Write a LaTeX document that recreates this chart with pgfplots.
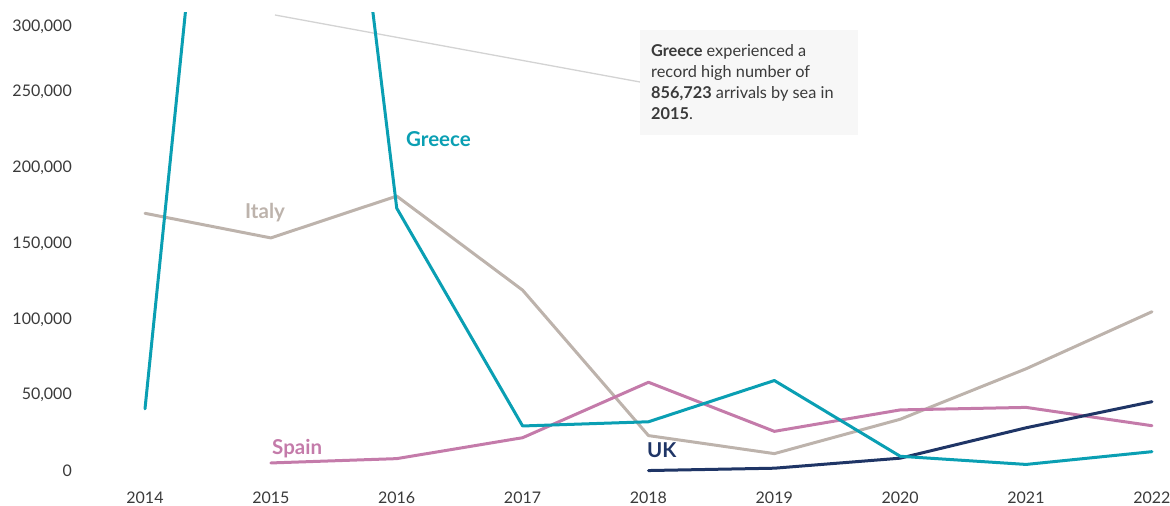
\documentclass[border=0pt]{standalone}
\usepackage{fontspec}
\setmainfont{Lato}
\usepackage{pgfplots}
\pgfplotsset{compat=1.18}
\definecolor{greece}{HTML}{0A9FB3}
\definecolor{italy}{HTML}{BDB3AC}
\definecolor{spain}{HTML}{C47BAA}
\definecolor{uk}{HTML}{1F3566}
\definecolor{annbg}{HTML}{F7F7F7}
\definecolor{conn}{HTML}{D3D3D3}
\definecolor{ticktxt}{HTML}{3A3A3A}
\begin{document}
\begin{tikzpicture}
\begin{axis}[
  at={(73pt,26pt)}, anchor=south west,
  scale only axis, width=1097pt, height=467pt,
  xmin=2013.4280, xmax=2022.1430, ymin=-5941, ymax=302310,
  axis line style={draw=none}, major tick length=0pt,
  xtick={2014,...,2022}, ytick={0,50000,...,250000},
  extra y ticks={300000},
  extra y tick style={yticklabel style={yshift=-10pt}},
  scaled y ticks=false,
  /pgf/number format/.cd, fixed, 1000 sep={,}, assume math mode=true,
  /pgfplots/.cd,
  xticklabel style={/pgf/number format/1000 sep={}, yshift=-12pt},
  yticklabel style={xshift=-1pt},
  ticklabel style={font=\fontsize{16}{19}\selectfont, text=ticktxt, inner sep=0pt},
  clip mode=individual,
]
\draw[conn, line width=1.3pt] (axis cs:2015.0328,300990) -- (axis cs:2017.9325,256766);
\addplot[italy, line width=3pt, line join=round, line cap=round] coordinates {
 (2014,170100) (2015,153842) (2016,181436) (2017,119369) (2018,23370)
 (2019,11471) (2020,34154) (2021,67477) (2022,105131)};
\addplot[spain, line width=3pt, line join=round, line cap=round] coordinates {
 (2015,5312) (2016,8162) (2017,21971) (2018,58569) (2019,26168)
 (2020,40326) (2021,41979) (2022,29895)};
\addplot[uk, line width=3pt, line join=round, line cap=round] coordinates {
 (2018,299) (2019,1843) (2020,8466) (2021,28526) (2022,45755)};
\addplot[greece, line width=3pt, line join=round, line cap=round] coordinates {
 (2014,41038) (2015,856723) (2016,173450) (2017,29718) (2018,32494)
 (2019,59726) (2020,9714) (2021,4331) (2022,12758)};
\fill[annbg] (axis cs:2017.9325,291089) rectangle (axis cs:2019.6644,221782);
\begin{scope}[every node/.style={anchor=base west, inner sep=0pt, font=\fontsize{16.3}{19}\selectfont, text=ticktxt}]
\node at (axis cs:2018.0199,273267) {\textbf{Greece} experienced a};
\node at (axis cs:2018.0199,259406) {record high number of};
\node at (axis cs:2018.0199,245545) {\textbf{856,723} arrivals by sea in};
\node at (axis cs:2018.0199,231683) {\textbf{2015}.};
\end{scope}
\begin{scope}[every node/.style={anchor=base west, inner sep=0pt, font=\fontsize{20.5}{23}\selectfont\bfseries}]
\node[text=greece] at (axis cs:2016.0735,213861) {Greece};
\node[text=italy] at (axis cs:2014.7944,166337) {Italy};
\node[text=spain] at (axis cs:2015.0089,10561) {Spain};
\node[text=uk] at (axis cs:2017.9881,8581) {UK};
\end{scope}
\end{axis}
\pgfresetboundingbox
\path[use as bounding box] (0,0) rectangle (1170pt,506pt);
\end{tikzpicture}
\end{document}
